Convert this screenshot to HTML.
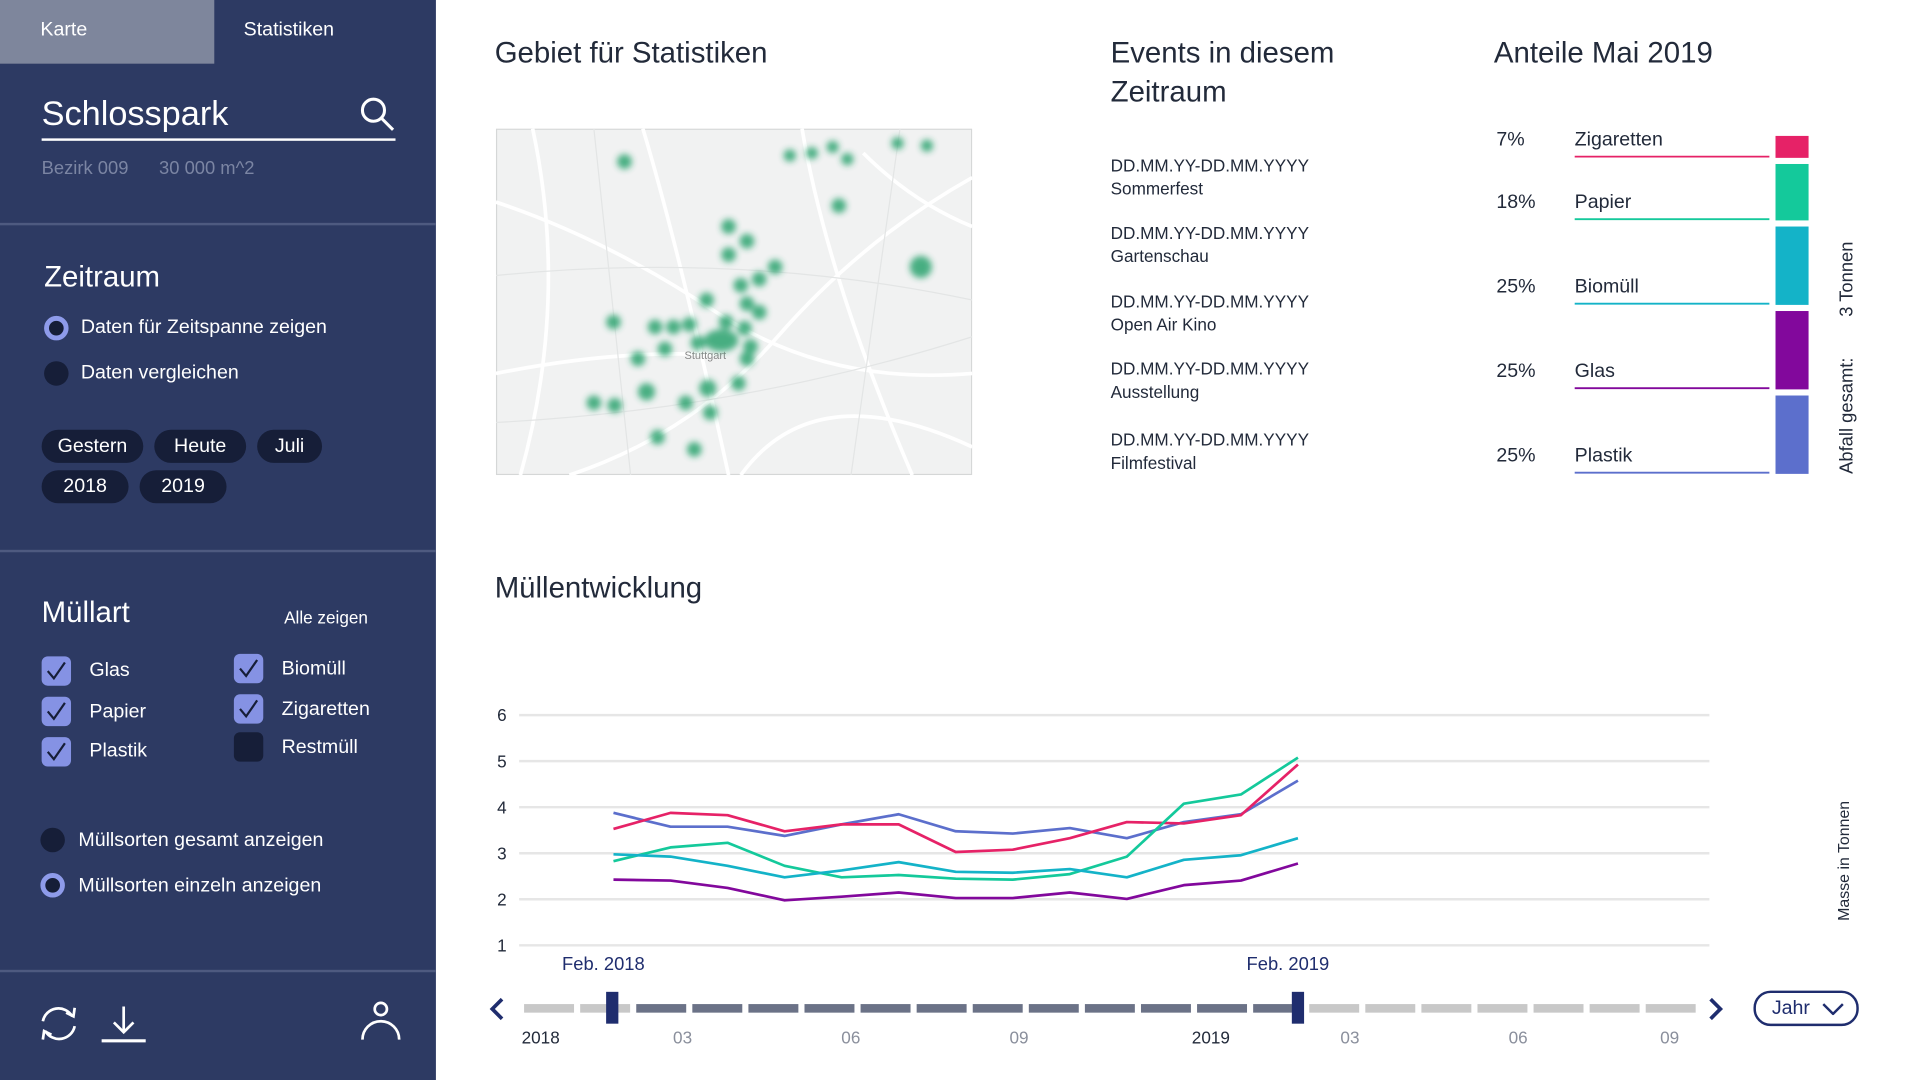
<!DOCTYPE html>
<html><head><meta charset="utf-8">
<style>
html,body{margin:0;padding:0;width:1920px;height:1080px;overflow:hidden;background:#fff;font-family:"Liberation Sans",sans-serif;}
#root{position:absolute;left:0;top:0;width:1568px;height:882px;transform:scale(1.22449);transform-origin:0 0;}
.abs{position:absolute;}
#side{position:absolute;left:0;top:0;width:356px;height:882px;background:#2d3a63;color:#fff;}
.t{position:absolute;white-space:nowrap;}
.div{position:absolute;left:0;width:356px;height:2px;background:#4e5a80;}
.chip{position:absolute;height:27px;line-height:27px;border-radius:14px;background:#161e38;color:#fff;font-size:16px;text-align:center;}
.cb{position:absolute;width:24px;height:24px;border-radius:5px;background:#8592e4;}
.cb svg{position:absolute;left:3px;top:4px;}
.cb.off{background:#161e38;}
.radio{position:absolute;width:20px;height:20px;border-radius:50%;background:#161e38;box-sizing:border-box;}
.radio.on{border:4px solid #8e9bea;}
.h2{font-size:24px;color:#222a3a;}
.ev{font-size:14px;color:#222a3a;line-height:19px;}
</style></head>
<body>
<div id="root">
<div id="side">
  <div class="abs" style="left:0;top:0;width:175px;height:52px;background:#7e869c;"><span class="t" style="left:33px;top:16px;font-size:16px;">Karte</span></div>
  <div class="abs" style="left:175px;top:0;width:181px;height:52px;"><span class="t" style="left:24px;top:16px;font-size:16px;">Statistiken</span></div>
  <div class="t" style="left:34px;top:77px;font-size:28px;">Schlosspark</div>
  <div class="abs" style="left:34px;top:113px;width:289px;height:2px;background:#fff;"></div>
  <svg class="abs" style="left:293px;top:78px" width="32" height="32"><circle cx="12" cy="12" r="9" fill="none" stroke="#fff" stroke-width="2.5"/><line x1="18.5" y1="18.5" x2="28" y2="28" stroke="#fff" stroke-width="2.5"/></svg>
  <div class="t" style="left:34px;top:129px;font-size:15px;color:#7b85a3;">Bezirk 009&nbsp;&nbsp;&nbsp;&nbsp;&nbsp;&nbsp;30 000 m^2</div>
  <div class="div" style="top:182px"></div>
  <div class="t" style="left:36px;top:213px;font-size:24px;">Zeitraum</div>
  <div class="radio on" style="left:36px;top:258px"></div>
  <div class="t" style="left:66px;top:259px;font-size:16px;">Daten für Zeitspanne zeigen</div>
  <div class="radio" style="left:36px;top:295px"></div>
  <div class="t" style="left:66px;top:296px;font-size:16px;">Daten vergleichen</div>
  <div class="chip" style="left:34px;top:351px;width:83px">Gestern</div>
  <div class="chip" style="left:126px;top:351px;width:75px">Heute</div>
  <div class="chip" style="left:210px;top:351px;width:53px">Juli</div>
  <div class="chip" style="left:34px;top:384px;width:71px">2018</div>
  <div class="chip" style="left:114px;top:384px;width:71px">2019</div>
  <div class="div" style="top:449px"></div>
  <div class="t" style="left:34px;top:487px;font-size:24px;">Müllart</div>
  <div class="t" style="left:232px;top:496px;font-size:14px;">Alle zeigen</div>
  <div class="cb" style="left:34px;top:536px"><svg width="18" height="16"><path d="M2 8 L7 14 L16 1" fill="none" stroke="#161e38" stroke-width="1.8"/></svg></div><div class="t" style="left:73px;top:539px;font-size:16px;">Glas</div>
  <div class="cb" style="left:34px;top:569px"><svg width="18" height="16"><path d="M2 8 L7 14 L16 1" fill="none" stroke="#161e38" stroke-width="1.8"/></svg></div><div class="t" style="left:73px;top:573px;font-size:16px;">Papier</div>
  <div class="cb" style="left:34px;top:602px"><svg width="18" height="16"><path d="M2 8 L7 14 L16 1" fill="none" stroke="#161e38" stroke-width="1.8"/></svg></div><div class="t" style="left:73px;top:605px;font-size:16px;">Plastik</div>
  <div class="cb" style="left:191px;top:534px"><svg width="18" height="16"><path d="M2 8 L7 14 L16 1" fill="none" stroke="#161e38" stroke-width="1.8"/></svg></div><div class="t" style="left:230px;top:538px;font-size:16px;">Biomüll</div>
  <div class="cb" style="left:191px;top:567px"><svg width="18" height="16"><path d="M2 8 L7 14 L16 1" fill="none" stroke="#161e38" stroke-width="1.8"/></svg></div><div class="t" style="left:230px;top:571px;font-size:16px;">Zigaretten</div>
  <div class="cb off" style="left:191px;top:598px"></div><div class="t" style="left:230px;top:602px;font-size:16px;">Restmüll</div>
  <div class="radio" style="left:33px;top:676px"></div>
  <div class="t" style="left:64px;top:678px;font-size:16px;">Müllsorten gesamt anzeigen</div>
  <div class="radio on" style="left:33px;top:713px"></div>
  <div class="t" style="left:64px;top:715px;font-size:16px;">Müllsorten einzeln anzeigen</div>
  <div class="div" style="top:792px"></div>
  <svg class="abs" style="left:30px;top:818px" width="36" height="36"><path d="M5 16 A13 13 0 0 1 29 12" fill="none" stroke="#fff" stroke-width="2.2"/><path d="M24 9 L30 12 L31 5" fill="none" stroke="#fff" stroke-width="2.2"/><path d="M31 20 A13 13 0 0 1 7 24" fill="none" stroke="#fff" stroke-width="2.2"/><path d="M12 27 L6 24 L5 31" fill="none" stroke="#fff" stroke-width="2.2"/></svg>
  <svg class="abs" style="left:82px;top:818px" width="38" height="36"><line x1="19" y1="4" x2="19" y2="25" stroke="#fff" stroke-width="2.2"/><path d="M11 17 L19 25 L27 17" fill="none" stroke="#fff" stroke-width="2.2"/><line x1="1" y1="32" x2="37" y2="32" stroke="#fff" stroke-width="2.5"/></svg>
  <svg class="abs" style="left:293px;top:815px" width="36" height="36"><circle cx="18" cy="9" r="5" fill="none" stroke="#fff" stroke-width="2.2"/><path d="M3 34 A15 15 0 0 1 33 34" fill="none" stroke="#fff" stroke-width="2.2"/></svg>
</div>

<div class="t h2" style="left:404px;top:30px">Gebiet für Statistiken</div>
<svg class="abs" style="left:405px;top:105px" width="389" height="283">
  <defs><filter id="bl"><feGaussianBlur stdDeviation="2.5"/></filter></defs>
  <rect x="0.5" y="0.5" width="388" height="282" fill="#f1f2f2" stroke="#d5d7d7"/>
  <g stroke="#fff" stroke-width="3" fill="none">
    <path d="M0 60 Q90 90 180 150 T389 200"/><path d="M120 0 Q150 100 190 283"/><path d="M389 40 Q300 90 230 170 T60 283"/>
    <path d="M0 200 Q100 180 180 185"/><path d="M250 0 Q270 120 340 283"/><path d="M300 20 Q340 60 389 80"/>
    <path d="M30 0 Q60 140 20 283"/><path d="M200 283 Q260 200 389 260"/>
  </g>
  <g stroke="#e3e5e5" stroke-width="1" fill="none">
    <path d="M0 120 Q200 100 389 140"/><path d="M80 0 L110 283"/><path d="M0 240 Q200 230 389 170"/><path d="M330 0 L290 283"/>
  </g>
  <text x="154" y="188" font-size="9" fill="#888">Stuttgart</text>
  <g fill="#2aa36e" filter="url(#bl)" opacity="0.85">
    <circle cx="105" cy="27" r="6"/><circle cx="240" cy="22" r="5"/><circle cx="258" cy="20" r="5"/><circle cx="275" cy="15" r="5"/><circle cx="287" cy="25" r="5"/><circle cx="328" cy="12" r="5"/><circle cx="352" cy="14" r="5"/>
    <circle cx="280" cy="63" r="6"/><circle cx="347" cy="113" r="9"/><circle cx="190" cy="80" r="6"/><circle cx="205" cy="92" r="6"/><circle cx="190" cy="103" r="6"/>
    <circle cx="228" cy="113" r="6"/><circle cx="215" cy="123" r="6"/><circle cx="200" cy="128" r="6"/><circle cx="172" cy="140" r="6"/><circle cx="205" cy="143" r="6"/><circle cx="215" cy="150" r="6"/>
    <circle cx="96" cy="158" r="6"/><circle cx="130" cy="162" r="6"/><circle cx="145" cy="162" r="6"/><circle cx="158" cy="160" r="6"/><circle cx="188" cy="158" r="6"/><circle cx="203" cy="163" r="6"/>
    <ellipse cx="184" cy="173" rx="14" ry="9"/><circle cx="165" cy="175" r="6"/><circle cx="208" cy="178" r="6"/><circle cx="138" cy="180" r="6"/><circle cx="116" cy="188" r="6"/><circle cx="205" cy="188" r="6"/>
    <circle cx="123" cy="215" r="7"/><circle cx="173" cy="212" r="7"/><circle cx="198" cy="208" r="6"/><circle cx="80" cy="224" r="6"/><circle cx="97" cy="226" r="6"/><circle cx="155" cy="224" r="6"/><circle cx="175" cy="232" r="6"/><circle cx="132" cy="252" r="6"/><circle cx="162" cy="262" r="6"/>
  </g>
</svg>

<div class="t h2" style="left:907px;top:28px;line-height:32px">Events in diesem<br>Zeitraum</div>
<div class="t ev" style="left:907px;top:126px">DD.MM.YY-DD.MM.YYYY<br>Sommerfest</div>
<div class="t ev" style="left:907px;top:181px">DD.MM.YY-DD.MM.YYYY<br>Gartenschau</div>
<div class="t ev" style="left:907px;top:237px">DD.MM.YY-DD.MM.YYYY<br>Open Air Kino</div>
<div class="t ev" style="left:907px;top:292px">DD.MM.YY-DD.MM.YYYY<br>Ausstellung</div>
<div class="t ev" style="left:907px;top:350px">DD.MM.YY-DD.MM.YYYY<br>Filmfestival</div>

<div class="t h2" style="left:1220px;top:30px">Anteile Mai 2019</div>
<svg class="abs" style="left:1210px;top:95px" width="358" height="300" id="shares"></svg>

<div class="t h2" style="left:404px;top:467px">Müllentwicklung</div>
<svg class="abs" style="left:0;top:560px" width="1568" height="322" id="trend"></svg>
<div class="abs" style="left:1432px;top:809px;width:82px;height:25px;border:2px solid #1f2d6e;border-radius:14px;color:#1f2d6e;font-size:16px;"><span class="t" style="left:13px;top:4px">Jahr</span><svg class="abs" style="left:54px;top:8px" width="18" height="10"><path d="M1 1 L9 9 L17 1" fill="none" stroke="#1f2d6e" stroke-width="2"/></svg></div>
</div>

<script>
const NS="http://www.w3.org/2000/svg";
function mk(p,tag,a){const e=document.createElementNS(NS,tag);for(const k in a)e.setAttribute(k,a[k]);p.appendChild(e);return e;}

// ---- shares data ----
const shareLabels=["Zigaretten","Papier","Biomüll","Glas","Plastik"];
const sharePct=[7,18,25,25,25];
const shareColors=["#e62267","#14c99b","#14b3c8","#82089c","#5c6fcc"];
const sh=document.getElementById('shares');
{
  const top=16, total=276, gap=5;
  const sum=sharePct.reduce((a,b)=>a+b,0);
  const avail=total-gap*(sharePct.length-1);
  let y=top;
  sharePct.forEach((p,i)=>{
    const h=avail*p/sum;
    const r=mk(sh,'rect',{x:240,y:y,width:27,height:h,fill:shareColors[i]});
    
    
    const ln=mk(sh,'line',{x1:76,x2:235,y1:y+h-1,y2:y+h-1,stroke:shareColors[i],'stroke-width':1.5});
    
    
    const ty=y+h-10;
    const t1=mk(sh,'text',{x:12,y:ty,'font-size':16,fill:'#222a3a','font-family':'Liberation Sans'});t1.textContent=p+'%';
    
    
    const t2=mk(sh,'text',{x:76,y:ty,'font-size':16,fill:'#222a3a','font-family':'Liberation Sans'});t2.textContent=shareLabels[i];
    
    
    y+=h+gap;
  });
  const vt=mk(sh,'text',{x:0,y:0,'font-size':15,fill:'#222a3a','font-family':'Liberation Sans',transform:'translate(303,292) rotate(-90)'});
  vt.textContent='Abfall gesamt:        3 Tonnen';
  vt.setAttribute('xml:space','preserve');
  vt.setAttribute('style','white-space:pre');
  
  
}

// ---- trend data ----
const months=["02.18","03.18","04.18","05.18","06.18","07.18","08.18","09.18","10.18","11.18","12.18","01.19","02.19"];
const yTicks=[1,2,3,4,5,6];
const zigaretten=[3.5,3.85,3.8,3.45,3.6,3.6,3.0,3.05,3.3,3.65,3.62,3.8,4.9];
const papier=[2.8,3.1,3.2,2.7,2.45,2.5,2.42,2.4,2.52,2.9,4.05,4.25,5.05];
const biomuell=[2.95,2.9,2.7,2.45,2.6,2.78,2.57,2.55,2.63,2.45,2.83,2.93,3.3];
const glas=[2.4,2.38,2.22,1.95,2.03,2.12,2.0,2.0,2.12,1.98,2.28,2.38,2.75];
const plastik=[3.85,3.55,3.55,3.35,3.6,3.82,3.45,3.4,3.52,3.3,3.65,3.82,4.55];
const sliderLabels=["2018","03","06","09","2019","03","06","09"];
const sliderLabelMonth=[0,2.7,5.7,8.7,11.95,14.6,17.6,20.3];

const tr=document.getElementById('trend');
const OY=560;
const X=i=>501+i*(1060-501)/(months.length-1);
const Y=v=>(583+(6-v)*37.6)-OY;
yTicks.forEach(v=>{
  const g=mk(tr,'line',{x1:424,x2:1396,y1:Y(v)+1,y2:Y(v)+1,stroke:'#e6e6e6','stroke-width':2});
  
  
  const t=mk(tr,'text',{x:406,y:Y(v)+6,'font-size':14,fill:'#222a3a','font-family':'Liberation Sans'});t.textContent=v;
  
  
});
const series=[[plastik,'#5c6fcc','plastik'],[zigaretten,'#e62267','zigaretten'],[papier,'#14c99b','papier'],[biomuell,'#14b3c8','biomuell'],[glas,'#82089c','glas']];
series.forEach(([d,c,n])=>{
  const p=mk(tr,'polyline',{points:d.map((v,i)=>X(i)+','+Y(v)).join(' '),fill:'none',stroke:c,'stroke-width':2.2,'stroke-linejoin':'round'});
  
  
});
[["Feb. 2018",0],["Feb. 2019",12]].forEach(([s,i])=>{
  const t=mk(tr,'text',{x:X(i)-42,y:232,'font-size':15,fill:'#1f2d6e','font-family':'Liberation Sans'});t.textContent=s;
  
  
});
// slider
const SX=m=>426+m*45.8;
for(let m=0;m<21;m++){
  const x0=SX(m)+2,x1=SX(m+1)-3;
  const mid=(x0+x1)/2;
  const dark=mid>500&&mid<1060;
  const r=mk(tr,'rect',{x:x0,y:260,width:x1-x0,height:7,fill:dark?'#6b7287':'#c8c8c8'});
  
  
}
[500,1060].forEach(x=>{
  const h=mk(tr,'rect',{x:x-5,y:250,width:10,height:26,fill:'#1f2d6e'});
  
  
});
sliderLabels.forEach((s,i)=>{
  const big=s.length===4;
  const t=mk(tr,'text',{x:SX(sliderLabelMonth[i]),y:292,'font-size':14,fill:big?'#222a3a':'#8a8f9c','font-family':'Liberation Sans'});
  t.textContent=s;
  
  
});
const la=mk(tr,'path',{d:'M410 256 L402 264 L410 272',fill:'none',stroke:'#1f2d6e','stroke-width':3});


const ra=mk(tr,'path',{d:'M1397 256 L1405 264 L1397 272',fill:'none',stroke:'#1f2d6e','stroke-width':3});


const yl=mk(tr,'text',{x:0,y:0,'font-size':13,fill:'#222a3a','font-family':'Liberation Sans',transform:'translate(1510,192) rotate(-90)'});
yl.textContent='Masse in Tonnen';


</script>
</body></html>
